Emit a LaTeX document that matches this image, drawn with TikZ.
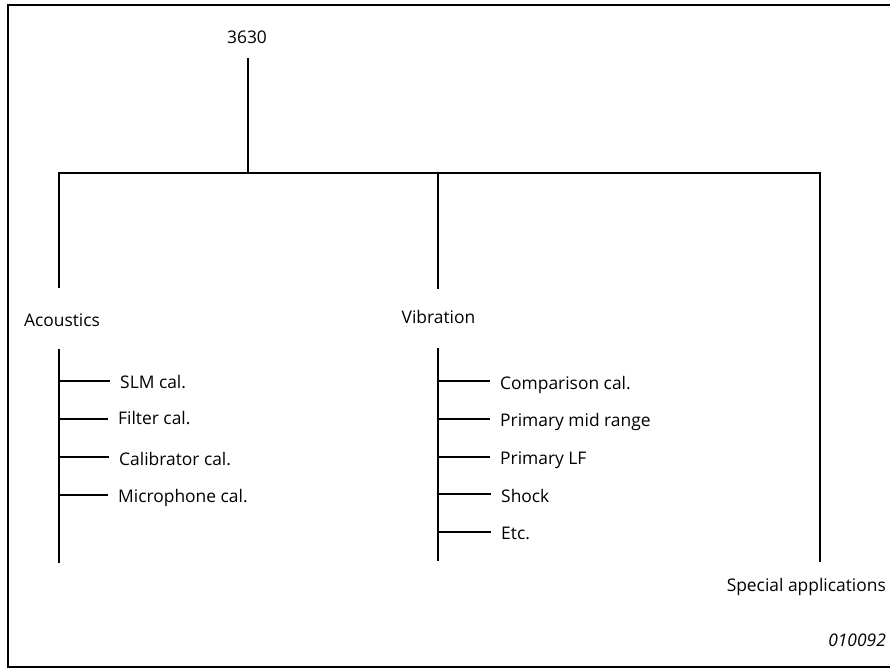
\documentclass[tikz,border=0pt]{standalone}
\usepackage{fontspec}
\setmainfont{Open Sans}

\begin{document}
\begin{tikzpicture}[x=1pt, y=-1pt]

\tikzstyle{LBL} = [inner sep=0pt, anchor=base, font=\fontsize{17.4}{20}\selectfont]
\tikzstyle{ITEM} = [LBL, anchor=base west]
\tikzstyle{trunk} = [line width=2.9pt]
\tikzstyle{stem} = [line width=1.6pt]
\tikzstyle{twig} = [line width=1.1pt, shorten >=10pt]

\useasboundingbox (0,0) rectangle (890,669);
\draw[line width=2.4pt] (890,5) -- (8,5) -- (8,667) -- (890,667);

% top of the tree
\node (root) [LBL] at (247,44) {3630};
\coordinate (rootEnd) at (248,58);
\coordinate (fork) at (248,173);
\coordinate (acoTop) at (59,173);
\coordinate (vibTop) at (438,173);
\coordinate (spTop) at (820,173);
\coordinate (acoEnd) at (59,288);
\coordinate (vibEnd) at (438,289);
\coordinate (spEnd) at (820,562);

\draw[trunk] (rootEnd) -- (fork);
\draw[trunk] (acoEnd) -- (acoTop) -- (spTop) -- (spEnd);
\draw[trunk] (vibTop) -- (vibEnd);

% branches
\node (aco) [LBL] at (62,326) {Acoustics};
\node (vib) [LBL] at (438.5,323) {Vibration};
\node (sp) [LBL, anchor=base east] at (886,591) {Special applications};

% acoustics items
\coordinate (acoA) at (59,349);
\coordinate (acoB) at (59,563);
\draw[stem] (acoA) -- (acoB);
\node (slm) [ITEM] at (120,388) {SLM cal.};
\node (filt) [ITEM] at (118,424) {Filter cal.};
\node (calib) [ITEM] at (119,465) {Calibrator cal.};
\node (mic) [ITEM] at (118,502) {Microphone cal.};
\coordinate (t1) at (59,381);
\coordinate (t2) at (59,419);
\coordinate (t3) at (59,457);
\coordinate (t4) at (59,495);
\draw[twig] (t1) -- (t1 -| slm.west);
\draw[twig] (t2) -- (t2 -| filt.west);
\draw[twig] (t3) -- (t3 -| calib.west);
\draw[twig] (t4) -- (t4 -| mic.west);

% vibration items
\coordinate (vibA) at (438,348);
\coordinate (vibB) at (438,561);
\draw[stem] (vibA) -- (vibB);
\node (comp) [ITEM] at (500,389) {Comparison cal.};
\node (mid) [ITEM] at (500,426) {Primary mid range};
\node (lf) [ITEM] at (500,464) {Primary LF};
\node (shock) [ITEM] at (501,502) {Shock};
\node (etc) [ITEM] at (501,539) {Etc.};
\coordinate (v1) at (438,381);
\coordinate (v2) at (438,419);
\coordinate (v3) at (438,457);
\coordinate (v4) at (438,494);
\coordinate (v5) at (438,532);
\draw[twig] (v1) -- (v1 -| comp.west);
\draw[twig] (v2) -- (v2 -| mid.west);
\draw[twig] (v3) -- (v3 -| lf.west);
\draw[twig] (v4) -- (v4 -| shock.west);
\draw[twig] (v5) -- (v5 -| etc.west);

\node (code) [LBL, anchor=base east, font=\fontsize{17.4}{20}\selectfont\itshape] at (886,646) {010092};

\end{tikzpicture}
\end{document}
